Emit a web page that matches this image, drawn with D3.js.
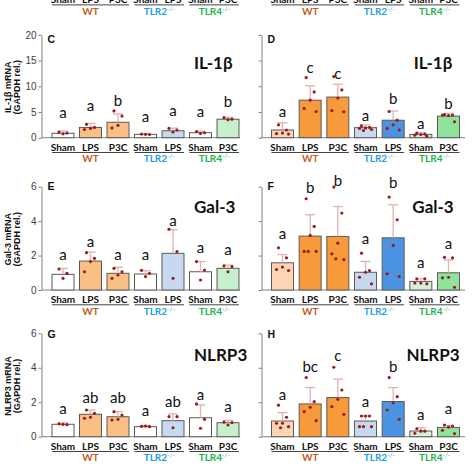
<!DOCTYPE html>
<html><head><meta charset="utf-8">
<script src="https://cdn.jsdelivr.net/npm/d3@7"></script>
<style>body{margin:0;background:#fff}svg{display:block}</style>
</head><body>
<svg id="chart" width="474" height="474"></svg>
<script>
// ---------- data ----------
const conditions = ["Sham","LPS","P3C","Sham","LPS","Sham","P3C"];
const genotypes = ["WT","WT","WT","TLR2","TLR2","TLR4","TLR4"];
const groupNames = ["WT","TLR2","TLR4"];
const groupSup = ["","-/-","-/-"];
const ticksIL = [0,5,10,15,20];
const ticksSmall = [0,2,4,6];

// C: IL-1β (in vitro, left)
const cMeans = [0.86, 2.0, 3.0, 0.65, 1.35, 0.97, 3.6];
const cSd = [0.44, 0.8, 1.6, 0.1, 0.5, 0.28, 0.35];
const cDots = [[1.1,0.9,0.75],[2.6,2.0,1.8,1.6],[5.2,4.2,2.4,1.9],[0.7,0.62,0.66],[1.8,1.5,1.1],[1.2,0.95,0.8],[3.9,3.6,3.5]];
const cLetters = ["a","a","b","a","a","a","b"];
const cLetterAt = [3.8, 5.25, 6.2, 3.05, 4.3, 4.0, 5.95];

// D: IL-1β (right)
const dMeans = [1.5, 7.3, 7.9, 1.95, 3.4, 0.65, 4.2];
const dSd = [1.4, 2.8, 2.5, 0.55, 1.8, 0.35, 0.5];
const dDots = [[2.5,1.5,0.9,0.8,0.7],[11.7,8.9,7.3,5.7,5.1],[11.9,9.3,7.7,5.25,5.05],[2.3,2.0,1.9,1.8,1.6,1.4],[5.1,3.4,2.5,1.8,1.5],[0.9,0.7,0.6,0.5,0.3],[4.5,4.4,4.3,4.4,3.1]];
const dLetters = ["a","c","c","a","b","a","b"];
const dLetterAt = [4.1, 12.6, 11.4, 3.3, 6.55, 1.7, 5.6];

// E: Gal-3 (left)
const eMeans = [0.91, 1.68, 0.97, 0.93, 2.13, 1.06, 1.26];
const eSd = [0.35, 0.52, 0.35, 0.19, 1.36, 0.59, 0.19];
const eDots = [[1.22,0.97,0.68],[2.17,1.84,1.65,1.06],[1.26,1.06,0.87,0.68],[1.14,0.97,0.78],[3.53,2.23,0.68],[1.65,1.16,0.58],[1.4,1.36,1.06]];
const eLetters = ["a","a","a","a","a","a","a"];
const eLetterAt = [1.74, 2.52, 1.74, 1.74, 3.7, 2.15, 2.05];

// F: Gal-3 (right)
const fMeans = [1.58, 3.13, 3.11, 1.03, 3.03, 0.5, 1.0];
const fSd = [0.48, 1.24, 1.74, 0.63, 1.92, 0.15, 0.75];
const fDots = [[2.45,1.87,1.33,1.19,1.13],[5.3,3.69,3.17,2.24,2.24,2.24],[5.98,4.47,2.72,2.1,1.76,1.81],[2.14,1.13,1.03,0.74,0.36],[5.4,4.08,2.59,0.94,0.78],[0.65,0.65,0.4,0.4,0.36],[1.9,1.87,0.74,0.71,0.16]];
const fLetters = ["a","b","b","a","b","a","a"];
const fLetterAt = [2.94, 5.65, 6.03, 2.65, 5.94, 1.25, 2.41];

// G: NLRP3 (left)
const gMeans = [0.72, 1.3, 1.16, 0.58, 0.93, 1.1, 0.81];
const gSd = [0.08, 0.25, 0.29, 0.07, 0.39, 0.74, 0.14];
const gDots = [[0.75,0.7,0.72],[1.55,1.36,1.13,1.07],[1.45,1.26,1.01,0.97],[0.6,0.58,0.62],[1.16,1.16,0.52],[1.9,1.01,0.49],[0.85,0.82,0.68]];
const gLetters = ["a","ab","ab","a","ab","a","a"];
const gLetterAt = [1.32, 1.94, 1.94, 1.22, 1.74, 2.15, 1.42];

// H: NLRP3 (right)
const hMeans = [0.91, 1.9, 2.27, 0.91, 2.04, 0.33, 0.54];
const hSd = [0.49, 0.95, 1.07, 0.29, 0.81, 0.19, 0.11];
const hDots = [[1.83,1.13,0.78,0.78,0.58,0.52],[3.43,2.03,1.71,1.45,0.93],[4.03,2.71,2.17,1.74,1.3],[1.2,1.2,1.2,0.58,0.58,0.58],[3.43,2.32,1.97,1.55,1.01],[0.46,0.32,0.32,0.2],[0.68,0.62,0.56,0.37,0.18]];
const hLetters = ["a","bc","c","a","b","a","a"];
const hLetterAt = [2.15, 3.78, 4.38, 1.74, 3.78, 0.97, 1.32];

// ---------- styles & layout ----------
const leftFill = ["#ffffff","#f9bf85","#f9bf85","#ffffff","#c6d9f1","#ffffff","#c6efcb"];
const rightFill = ["#fcd5b4","#f79a3c","#f79a3c","#c6d9f1","#4d93e3","#d5f0df","#8fe39b"];
const groupColor = ["#c65b1c","#1e9ee3","#22b14c"];
const FONT = "Lato, 'Liberation Sans', sans-serif";

const rows = [
  {y0:137.7, y1:34.9, max:20, ticks:ticksIL, title:"IL-1β mRNA", geneDy:34, letDy:8},
  {y0:290,   y1:186.7, max:6, ticks:ticksSmall, title:"Gal-3 mRNA", geneDy:26.5, letDy:3.5},
  {y0:436.7, y1:333.3, max:6, ticks:ticksSmall, title:"NLRP3 mRNA", geneDy:28, letDy:4.2}
];
const sides = [
  {axisX:41.5, first:63, last:228, xEnd:240, fills:leftFill, letX:47.5, geneX:194, geneAnchor:"start"},
  {axisX:261.5, first:282.5, last:448.5, xEnd:465, fills:rightFill, letX:267.5, geneX:433, geneAnchor:"middle"}
];
const panels = [
  {id:"C", gene:"IL-1β", row:0, side:0, means:cMeans, sd:cSd, dots:cDots, letters:cLetters, letterAt:cLetterAt},
  {id:"D", gene:"IL-1β", row:0, side:1, means:dMeans, sd:dSd, dots:dDots, letters:dLetters, letterAt:dLetterAt},
  {id:"E", gene:"Gal-3", row:1, side:0, means:eMeans, sd:eSd, dots:eDots, letters:eLetters, letterAt:eLetterAt},
  {id:"F", gene:"Gal-3", row:1, side:1, means:fMeans, sd:fSd, dots:fDots, letters:fLetters, letterAt:fLetterAt},
  {id:"G", gene:"NLRP3", row:2, side:0, means:gMeans, sd:gSd, dots:gDots, letters:gLetters, letterAt:gLetterAt},
  {id:"H", gene:"NLRP3", row:2, side:1, means:hMeans, sd:hSd, dots:hDots, letters:hLetters, letterAt:hLetterAt}
];
const BW = 22;
const jitter = [-4, 4, 0, -6, 6, -2, 2];

const svg = d3.select("#chart");
svg.append("rect").attr("width",474).attr("height",474).attr("fill","#fff");

function xScale(side){
  return d3.scalePoint().domain(d3.range(conditions.length)).range([side.first, side.last]);
}

function drawCategoryLabels(g, x, axisY){
  g.selectAll("text.cond").data(conditions).join("text")
    .attr("x",(d,i)=>x(i)).attr("y",axisY+13)
    .attr("text-anchor","middle").attr("font-family",FONT).attr("font-weight","bold")
    .attr("font-size",10).attr("fill","#111").text(d=>d);
  groupNames.forEach((gname,gi)=>{
    const idx = d3.range(genotypes.length).filter(i=>genotypes[i]===gname);
    const xa = x(idx[0])-BW/2, xb = x(idx[idx.length-1])+BW/2;
    g.append("line").attr("x1",xa).attr("x2",xb).attr("y1",axisY+14.8).attr("y2",axisY+14.8)
      .attr("stroke","#444").attr("stroke-width",1);
    const t = g.append("text").attr("x",(xa+xb)/2).attr("y",axisY+24.5)
      .attr("text-anchor","middle").attr("font-family",FONT).attr("font-weight","bold")
      .attr("font-size",10).attr("fill",groupColor[gi]);
    t.append("tspan").text(gname);
    if(groupSup[gi]) t.append("tspan").attr("dy",-4).attr("font-size",6.5).attr("font-weight","normal").text(groupSup[gi]);
  });
}

// Top remnant of the previous row (labels only)
sides.forEach(side=>{
  drawCategoryLabels(svg.append("g"), xScale(side), -9.9);
});

panels.forEach(p=>{
  const row = rows[p.row], side = sides[p.side];
  const x = xScale(side);
  const y = d3.scaleLinear().domain([0,row.max]).range([row.y0,row.y1]);
  const g = svg.append("g");

  // y axis
  const ax = d3.axisLeft(y).tickValues(row.ticks).tickSize(3).tickSizeOuter(0)
    .tickFormat(p.side===0 ? d3.format("d") : ()=> "");
  const axg = g.append("g").attr("transform",`translate(${side.axisX},0)`).call(ax);
  axg.select(".domain").attr("stroke","#808080");
  axg.selectAll(".tick line").attr("stroke","#808080");
  axg.selectAll(".tick text").attr("font-family","'Liberation Sans', Arial, sans-serif")
    .attr("font-size",10).attr("fill","#404040").attr("x",-5);

  // x axis line
  g.append("line").attr("x1",side.axisX).attr("x2",side.xEnd)
    .attr("y1",y(0)).attr("y2",y(0)).attr("stroke","#808080").attr("stroke-width",1);

  // bars
  g.selectAll("rect.bar").data(p.means).join("rect")
    .attr("x",(d,i)=>x(i)-BW/2).attr("width",BW)
    .attr("y",d=>y(d)).attr("height",d=>y(0)-y(d))
    .attr("fill",(d,i)=>side.fills[i]).attr("stroke","#5a5a5a").attr("stroke-width",1);

  // error bars
  p.means.forEach((m,i)=>{
    const top = y(m+p.sd[i]);
    g.append("line").attr("x1",x(i)).attr("x2",x(i)).attr("y1",y(m)).attr("y2",top)
      .attr("stroke","#e0b2b2").attr("stroke-width",1.3);
    g.append("line").attr("x1",x(i)-5).attr("x2",x(i)+5).attr("y1",top).attr("y2",top)
      .attr("stroke","#e0b2b2").attr("stroke-width",1.3);
  });

  // dots
  p.dots.forEach((arr,i)=>{
    g.selectAll(null).data(arr).join("circle")
      .attr("cx",(d,k)=>x(i)+jitter[k%jitter.length]).attr("cy",d=>y(d))
      .attr("r",1.6).attr("fill","#9c1c1c");
  });

  // significance letters
  g.selectAll("text.sig").data(p.letters).join("text")
    .attr("x",(d,i)=>x(i)).attr("y",(d,i)=>y(p.letterAt[i]))
    .attr("text-anchor","middle").attr("font-family",FONT).attr("font-size",15)
    .attr("fill","#111").text(d=>d);

  // panel letter
  g.append("text").attr("x",side.letX).attr("y",row.y1+row.letDy)
    .attr("font-family","'Liberation Sans', Arial, sans-serif").attr("font-weight","bold")
    .attr("font-size",10.5).attr("fill","#111").text(p.id);

  // gene title
  g.append("text").attr("x",side.geneX).attr("y",row.y1+row.geneDy)
    .attr("text-anchor",side.geneAnchor).attr("font-family",FONT).attr("font-weight","bold")
    .attr("font-size",17).attr("fill","#111").text(p.gene);

  drawCategoryLabels(g, x, y(0));

  // y axis title
  if(p.side===0){
    const cy = (row.y0+row.y1)/2 + 1;
    [[row.title,10.5],["(GAPDH rel.)",20]].forEach(([t,bx])=>{
      g.append("text").attr("transform",`translate(${bx},${cy}) rotate(-90)`)
        .attr("text-anchor","middle").attr("font-family","'Liberation Sans', Arial, sans-serif")
        .attr("font-weight","bold").attr("font-size",9).attr("fill","#111").text(t);
    });
  }
});
</script>
</body></html>
